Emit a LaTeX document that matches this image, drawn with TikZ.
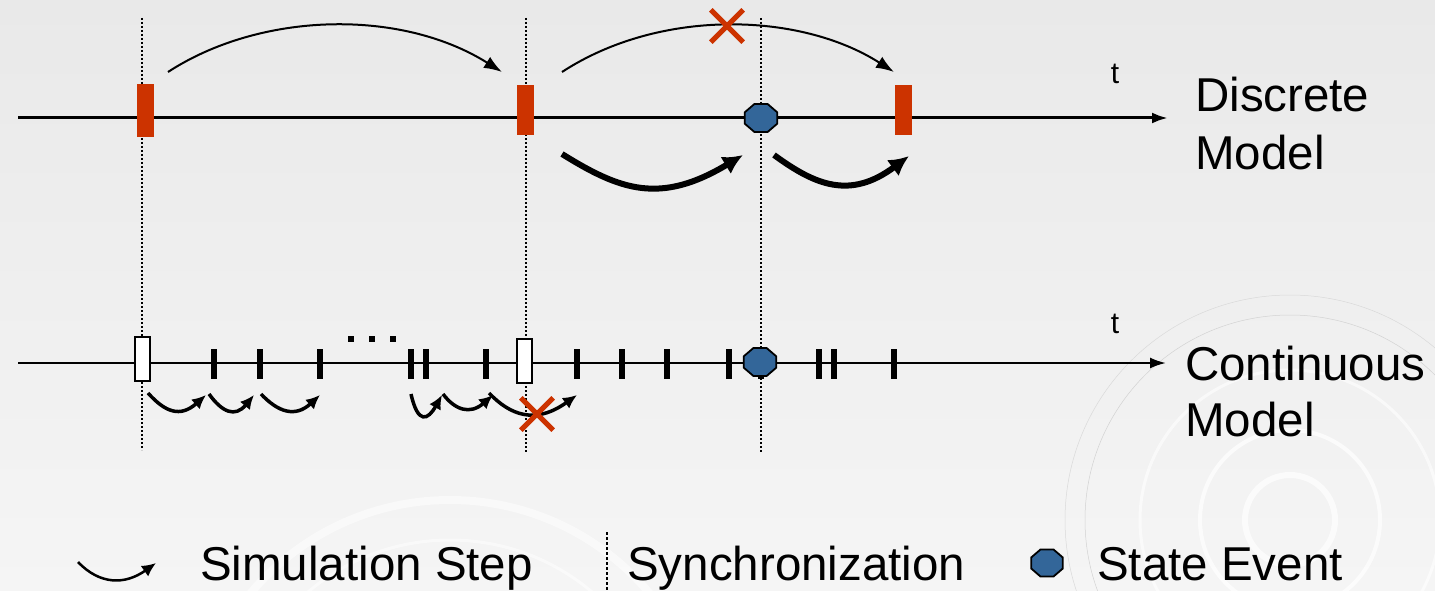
\documentclass[tikz,border=0pt]{standalone}
\usepackage{fontspec}
\setmainfont{Liberation Sans}
\usetikzlibrary{shapes.geometric,arrows.meta}
\definecolor{stepred}{HTML}{CC3300}
\definecolor{eventblue}{HTML}{336699}
\definecolor{bgtop}{HTML}{E9E9E9}
\definecolor{bgbot}{HTML}{F5F5F5}
\tikzset{
 axis/.style={line width=3pt,-{Latex[length=16pt,width=11pt]}},
 sync/.style={line width=1.6pt,dash pattern=on 1.6pt off 2.4pt},
 redbar/.style={fill=stepred,inner sep=0,minimum width=17pt,minimum height=50pt},
 syncbox/.style={draw,fill=white,line width=2pt,inner sep=0,minimum width=15pt,minimum height=44pt},
 tickbar/.style={fill=black,inner sep=0,minimum width=6pt,minimum height=30pt},
 event/.style={draw,fill=eventblue,line width=1.8pt,regular polygon,regular polygon sides=8,
   inner sep=0,minimum size=35pt,yscale=.86},
 bigstep/.style={line width=2pt,-{Latex[length=18pt,width=13pt]}},
 fatstep/.style={line width=6pt,-{Latex[length=20pt,width=20pt]}},
 smallstep/.style={line width=3.5pt,-{Latex[length=14pt,width=13pt]}},
 label/.style={inner sep=0,anchor=base west,font=\fontsize{47.5}{56}\selectfont},
}
\newcommand{\redstep}[2]{\node[redbar] ({#1}) at ({#2}) {};}
\newcommand{\cstep}[2]{\node[tickbar] ({#1}) at ({#2}) {};}
\newcommand{\cross}[2]{%
 \node[inner sep=0,minimum size=32pt] ({#1}) at ({#2}) {};
 \draw[stepred,line width=5pt] ({#1}.north west) -- ({#1}.south east)
   ({#1}.north east) -- ({#1}.south west);%
}

\begin{document}
\begin{tikzpicture}[x=1pt,y=-1pt]
  \shade[top color=bgtop,bottom color=bgbot] (0,0) rectangle (1435,591);
  \useasboundingbox (0,0) rectangle (1435,591);
  % background rings
  \begin{scope}
   \clip (0,0) rectangle (1435,591);
   \draw[white,line width=6pt,opacity=.7] (1290,520) circle[radius=45];
   \draw[white,line width=4pt,opacity=.7] (1290,520) circle[radius=90];
   \draw[white,line width=3pt,opacity=.6] (1290,520) circle[radius=150];
   \draw[gray!35,line width=.5pt] (1290,520) circle[radius=205];
   \draw[gray!30,line width=.5pt] (1290,520) circle[radius=225];
   \draw[white,line width=8pt,opacity=.5] (450,760) circle[radius=260];
   \draw[white,line width=3pt,opacity=.5] (450,760) circle[radius=220];
  \end{scope}
  % synchronization lines
  \draw[sync] (142,18) -- (142,450);
  \draw[sync] (526,18) -- (526,452);
  \draw[sync] (761,18) -- (761,452);
  % discrete model
  \node (d0) at (18,118) {};
  \node (d1) at (1168,118) {};
  \draw[axis] (d0.center) -- (d1.center);
  \node[redbar,minimum height=53pt] (r1) at (145,110.5) {};
  \redstep{r2}{525,110.5}
  \redstep{r3}{903,110.5}
  \node[event] (e1) at (761,118) {};
  \node[inner sep=0,anchor=base,font=\fontsize{30}{36}\selectfont] (t1) at (1115,84) {t};
  \node[label] (dm1) at (1195,112) {Discrete};
  \node[label] (dm2) at (1195,169) {Model};
  \coordinate (a1) at (168,72);
  \coordinate (a2) at (502,72);
  \coordinate (a3) at (562,72);
  \coordinate (a4) at (894,72);
  \draw[bigstep] (a1) .. controls (260,12) and (400,8) .. (a2);
  \draw[bigstep] (a3) .. controls (660,8) and (800,12) .. (a4);
  \cross{x1}{727,26}
  \coordinate (b1) at (562,154);
  \coordinate (b2) at (743,155);
  \coordinate (b3) at (774,155);
  \coordinate (b4) at (909,156);
  \draw[fatstep] (b1) .. controls (620,190) and (660,205) .. (b2);
  \draw[fatstep] (b3) .. controls (815,185) and (850,200) .. (b4);
  % continuous model
  \node (c0) at (18,363) {};
  \node (c1) at (1166,363) {};
  \draw[axis,line width=2.2pt] (c0.center) -- (c1.center);
  \node[syncbox] (s1) at (142.5,359) {};
  \node[syncbox] (s2) at (524.5,361) {};
  \cstep{k1}{214,364}
  \cstep{k2}{260,364}
  \cstep{k3}{320,364}
  \cstep{k4}{411,364}
  \cstep{k5}{426,364}
  \cstep{k6}{486,364}
  \cstep{k7}{577,364}
  \cstep{k8}{622,364}
  \cstep{k9}{667,364}
  \cstep{k10}{729,364}
  \cstep{k11}{761,364}
  \cstep{k12}{819,364}
  \cstep{k13}{834,364}
  \cstep{k14}{894,364}
  \node[event] (e2) at (760,362) {};
  \node[inner sep=0,fill=black,minimum size=6pt] (p1) at (351,339) {};
  \node[inner sep=0,fill=black,minimum size=6pt] (p2) at (372,339) {};
  \node[inner sep=0,fill=black,minimum size=6pt] (p3) at (393,339) {};
  \node[inner sep=0,anchor=base,font=\fontsize{30}{36}\selectfont] (t2) at (1115,333) {t};
  \node[label] (cm1) at (1185,380) {Continuous};
  \node[label] (cm2) at (1185,436) {Model};
  \coordinate (m1) at (148,393);
  \coordinate (m2) at (206,395);
  \coordinate (m3) at (209,394);
  \coordinate (m4) at (254,395);
  \coordinate (m5) at (261,394);
  \coordinate (m6) at (320,395);
  \coordinate (m7) at (411,394);
  \coordinate (m8) at (442,395);
  \coordinate (m9) at (443,394);
  \coordinate (m10) at (493,395);
  \coordinate (m11) at (489,393);
  \coordinate (m12) at (577,395);
  \draw[smallstep] (m1) .. controls (165,412) and (180,418) .. (m2);
  \draw[smallstep] (m3) .. controls (222,412) and (235,418) .. (m4);
  \draw[smallstep] (m5) .. controls (278,412) and (295,418) .. (m6);
  \draw[smallstep] (m7) .. controls (418,425) and (428,420) .. (m8);
  \draw[smallstep] (m9) .. controls (455,410) and (470,415) .. (m10);
  \draw[smallstep] (m11) .. controls (510,415) and (535,425) .. (m12);
  \cross{x2}{537,414}
  % legend
  \coordinate (l1) at (78,562);
  \coordinate (l2) at (156,563);
  \draw[smallstep,line width=2.5pt] (l1) .. controls (100,585) and (125,585) .. (l2);
  \node[label] (lg1) at (200,580) {Simulation Step};
  \node (q1) at (607,532) {};
  \node (q2) at (607,591) {};
  \draw[sync,line width=2.5pt,dash pattern=on 2.5pt off 2.5pt] (q1.center) -- (q2.center);
  \node[label] (lg2) at (627,580) {Synchronization};
  \node[event,minimum size=34pt] (e3) at (1047,563) {};
  \node[label] (lg3) at (1097,580) {State Event};
\end{tikzpicture}
\end{document}
